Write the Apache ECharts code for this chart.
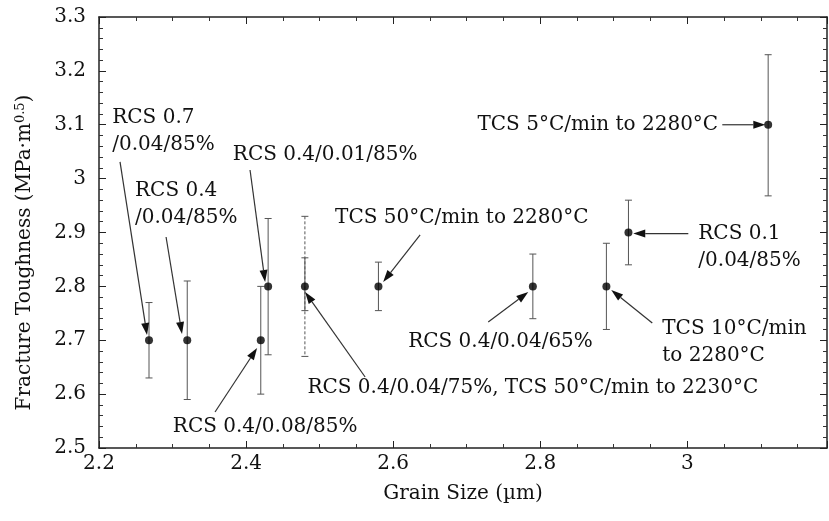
<!DOCTYPE html>
<html>
<head>
<meta charset="utf-8">
<script src="https://cdn.jsdelivr.net/npm/echarts@6/dist/echarts.min.js"></script>
<style>
  html, body { margin: 0; padding: 0; background: #fff; }
  #chart { width: 829px; height: 521px; }
</style>
</head>
<body>
<div id="chart"></div>
<script>
// Grain size (µm) and fracture toughness (MPa·m^0.5) of each sintered sample
const grainSize = [2.268, 2.32, 2.42, 2.43, 2.48, 2.58, 2.79, 2.89, 2.92, 3.11];
const toughness = [2.7, 2.7, 2.7, 2.8, 2.8, 2.8, 2.8, 2.8, 2.9, 3.1];
const toughLow  = [2.63, 2.59, 2.6, 2.673, 2.67, 2.755, 2.74, 2.72, 2.84, 2.968];
const toughHigh = [2.77, 2.81, 2.8, 2.926, 2.93, 2.845, 2.86, 2.88, 2.96, 3.23];

// Second sample sharing the 2.48 µm point (TCS 50°C/min to 2230°C)
const sharedSize = [2.48];
const sharedLow  = [2.755];
const sharedHigh = [2.853];

// Axis ticks
const xTicks = { min: 2.2, max: 3.19, step: 0.2 };
const yTicks = { min: 2.5, max: 3.3, step: 0.1 };

// Sample labels, their anchors and arrow ends (in axis units)
const noteText = [
  'RCS 0.7\n/0.04/85%',
  'RCS 0.4\n/0.04/85%',
  'RCS 0.4/0.01/85%',
  'TCS 50°C/min to 2280°C',
  'RCS 0.4/0.04/75%, TCS 50°C/min to 2230°C',
  'RCS 0.4/0.08/85%',
  'RCS 0.4/0.04/65%',
  'TCS 10°C/min\nto 2280°C',
  'RCS 0.1\n/0.04/85%',
  'TCS 5°C/min to 2280°C'
];
const noteX = [2.218, 2.249, 2.382, 2.521, 2.790, 2.426, 2.746, 2.966, 3.015, 3.042];
const noteY = [3.0875, 2.953, 3.044, 2.927, 2.611, 2.539, 2.697, 2.697, 2.872, 3.1];
const arrowFrom = [[2.2286, 3.031], [2.2912, 2.8916], [2.4054, 3.016], [2.6367, 2.8954], [2.5619, 2.6318],
                   [2.3578, 2.5668], [2.7293, 2.7339], [2.9524, 2.732], [3.0014, 2.898], [3.0476, 3.1]];
const arrowTo   = [[2.2653, 2.7097], [2.3129, 2.7116], [2.4259, 2.8081], [2.5864, 2.8081], [2.4803, 2.7896],
                   [2.415, 2.6856], [2.7837, 2.7896], [2.8966, 2.7933], [2.9265, 2.898], [3.1061, 3.1]];

const noteAlign = ['left', 'left', 'left', 'left', 'center', 'center', 'center', 'left', 'left', 'right'];
const dashedBars = [4];
const FONT = '"DejaVu Serif", "Liberation Serif", serif';
const INK = '#111';

const chart = echarts.init(document.getElementById('chart'), null, { renderer: 'canvas' });

function errorBarItem(x, lo, hi, dashed, api) {
  const top = api.coord([x, hi]);
  const bot = api.coord([x, lo]);
  const cap = 3.5;
  const style = { stroke: '#555', lineWidth: 1, lineDash: dashed ? [3, 2] : null };
  return {
    type: 'group',
    children: [
      { type: 'line', shape: { x1: top[0], y1: top[1], x2: bot[0], y2: bot[1] }, style },
      { type: 'line', shape: { x1: top[0] - cap, y1: top[1], x2: top[0] + cap, y2: top[1] }, style: { stroke: '#555', lineWidth: 1 } },
      { type: 'line', shape: { x1: bot[0] - cap, y1: bot[1], x2: bot[0] + cap, y2: bot[1] }, style: { stroke: '#555', lineWidth: 1 } }
    ]
  };
}

const axisCommon = {
  axisLine: { lineStyle: { color: '#222', width: 1.5 } },
  axisTick: { inside: true, length: 7, lineStyle: { color: '#222', width: 1 } },
  minorTick: { show: true, length: 4, lineStyle: { color: '#333', width: 1 } },
  splitLine: { show: false },
  minorSplitLine: { show: false }
};

const option = {
  animation: false,
  backgroundColor: '#fff',
  grid: { left: 99, right: 2, top: 17, bottom: 73, containLabel: false },
  xAxis: [
    Object.assign({}, axisCommon, {
      type: 'value', position: 'bottom',
      min: xTicks.min, max: xTicks.max, interval: xTicks.step,
      minorTick: Object.assign({}, axisCommon.minorTick, { splitNumber: 4 }),
      axisLabel: { showMaxLabel: false, color: INK, fontFamily: FONT, fontSize: 20, margin: 6 },
      name: 'Grain Size (µm)', nameLocation: 'middle', nameGap: 36,
      nameTextStyle: { color: INK, fontFamily: FONT, fontSize: 20 }
    }),
    Object.assign({}, axisCommon, {
      type: 'value', position: 'top',
      min: xTicks.min, max: xTicks.max, interval: xTicks.step,
      minorTick: Object.assign({}, axisCommon.minorTick, { splitNumber: 4 }),
      axisLabel: { show: false }
    })
  ],
  yAxis: [
    Object.assign({}, axisCommon, {
      type: 'value', position: 'left',
      min: yTicks.min, max: yTicks.max, interval: yTicks.step,
      minorTick: Object.assign({}, axisCommon.minorTick, { splitNumber: 5 }),
      axisLabel: { color: INK, fontFamily: FONT, fontSize: 20, margin: 13 },
      name: 'Fracture Toughness (MPa·m{sup|0.5})', nameLocation: 'middle', nameGap: 64,
      nameTextStyle: {
        color: INK, fontFamily: FONT, fontSize: 20, padding: [0, 40, 0, 0],
        rich: { sup: { color: INK, fontFamily: FONT, fontSize: 13, verticalAlign: 'top', padding: [0, 0, 8, 0] } }
      }
    }),
    Object.assign({}, axisCommon, {
      type: 'value', position: 'right',
      min: yTicks.min, max: yTicks.max, interval: yTicks.step,
      minorTick: Object.assign({}, axisCommon.minorTick, { splitNumber: 5 }),
      axisLabel: { show: false }
    })
  ],
  series: [
    {
      type: 'custom',
      name: 'error',
      data: grainSize.map((x, i) => [x, toughLow[i], toughHigh[i]]),
      clip: false,
      z: 2,
      renderItem: (params, api) =>
        errorBarItem(api.value(0), api.value(1), api.value(2), dashedBars.includes(params.dataIndex), api)
    },
    {
      type: 'custom',
      name: 'shared error',
      data: sharedSize.map((x, i) => [x, sharedLow[i], sharedHigh[i]]),
      clip: false,
      z: 2,
      renderItem: (params, api) => errorBarItem(api.value(0), api.value(1), api.value(2), false, api)
    },
    {
      type: 'scatter',
      name: 'toughness',
      data: grainSize.map((x, i) => [x, toughness[i]]),
      symbol: 'circle',
      symbolSize: 8,
      itemStyle: { color: '#000' },
      z: 4
    },
    {
      type: 'custom',
      name: 'notes',
      data: noteX.map((x, i) => [x, noteY[i]]),
      clip: false,
      z: 5,
      renderItem: (params, api) => {
        const i = params.dataIndex;
        const p = api.coord([api.value(0), api.value(1)]);
        const a = api.coord(arrowFrom[i]);
        const b = api.coord(arrowTo[i]);
        const dx = b[0] - a[0], dy = b[1] - a[1];
        const len = Math.sqrt(dx * dx + dy * dy);
        const ux = dx / len, uy = dy / len;
        const head = 12, half = 4;
        const bx = b[0] - ux * head, by = b[1] - uy * head;
        return {
          type: 'group',
          children: [
            { type: 'line', shape: { x1: a[0], y1: a[1], x2: bx, y2: by },
              style: { stroke: '#333', lineWidth: 1.2 } },
            { type: 'polygon',
              shape: { points: [[b[0], b[1]], [bx - uy * half, by + ux * half], [bx + uy * half, by - ux * half]] },
              style: { fill: '#111' } },
            { type: 'text', x: p[0], y: p[1],
              style: { text: noteText[i], fill: INK, fontFamily: FONT, fontSize: 20,
                       align: noteAlign[i], verticalAlign: 'middle', lineHeight: 27 } }
          ]
        };
      }
    }
  ]
};

chart.setOption(option);
</script>
</body>
</html>
